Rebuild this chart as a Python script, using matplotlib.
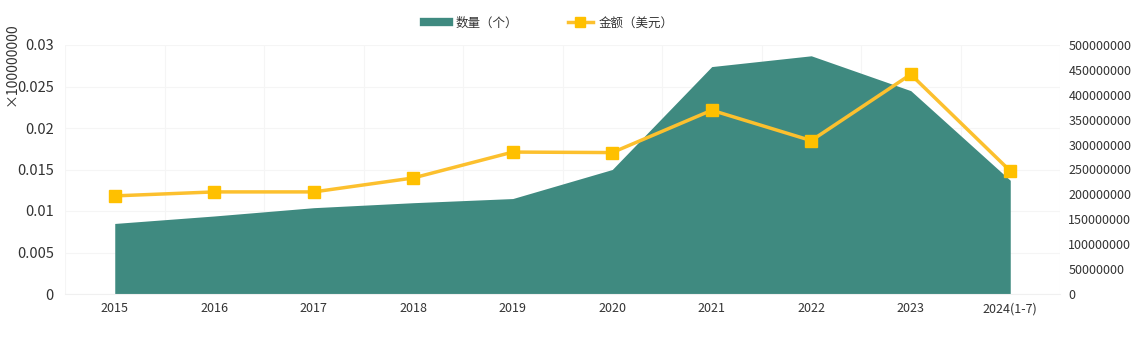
import matplotlib.pyplot as plt
from matplotlib.lines import Line2D
import numpy as np

plt.rcParams['font.family'] = ['Noto Sans CJK SC', 'DejaVu Sans']

years = ['2015', '2016', '2017', '2018', '2019', '2020', '2021', '2022', '2023', '2024(1-7)']
# count series, in units of 1e8 as shown on the left axis
count = [0.0085, 0.0094, 0.0104, 0.0110, 0.0115, 0.0150, 0.0274, 0.0287, 0.0245, 0.0137]
# amount in USD
amount = [197000000, 205000000, 205000000, 233000000, 285000000, 284000000,
          369000000, 308000000, 441000000, 247000000]

area_color = '#3f8a80'
line_color = '#fcc02e'
marker_color = '#ffc000'
text_color = '#333333'
grid_color = '#f5f5f5'

fig = plt.figure(figsize=(11.47, 3.42), dpi=100)
ax = fig.add_axes([65 / 1147, 48 / 342, 995 / 1147, 249 / 342])
ax2 = ax.twinx()

x = np.arange(len(years))
ax.fill_between(x, 0, count, color=area_color, linewidth=0, zorder=2)
ax2.plot(x, amount, color=line_color, linewidth=2.5, marker='s', markersize=8,
         markerfacecolor=marker_color, markeredgecolor=marker_color, zorder=3)

ax.set_xlim(-0.5, len(years) - 0.5)
ax.set_ylim(0, 0.03)
ax.set_yticks(np.arange(0, 0.0301, 0.005))
ax.set_yticklabels(['0', '0.005', '0.01', '0.015', '0.02', '0.025', '0.03'])
ax2.set_ylim(0, 500000000)
ax2.set_yticks(np.arange(0, 500000001, 50000000))
ax2.set_yticklabels([str(v) for v in range(0, 500000001, 50000000)])

ax.set_xticks(x)
ax.set_xticklabels(years)
ax.set_xticks(np.arange(-0.5, len(years)), minor=True)
ax.grid(True, axis='y', color=grid_color, linewidth=0.8, zorder=0)
ax.grid(True, axis='x', which='minor', color=grid_color, linewidth=0.8, zorder=0)
ax.set_axisbelow(True)

ax.tick_params(axis='x', length=0, labelsize=9, labelcolor=text_color, pad=6)
ax.tick_params(axis='x', which='minor', length=0)
ax.tick_params(axis='y', length=0, labelsize=10.5, labelcolor=text_color, pad=8)
ax2.tick_params(axis='y', length=0, labelsize=9, labelcolor=text_color, pad=6)

for a in (ax, ax2):
    for s in a.spines.values():
        s.set_visible(False)
ax.spines['bottom'].set_visible(True)
ax.spines['bottom'].set_color('#f0f0f0')

fig.text(12 / 1147, 1 - 64 / 342, '×100000000', rotation=90, ha='center', va='center',
         fontsize=10, color=text_color)

handles = [Line2D([0], [0], color=area_color, linewidth=6),
           Line2D([0], [0], color=line_color, linewidth=2.5, marker='s', markersize=7,
                  markerfacecolor=marker_color, markeredgecolor=marker_color)]
fig.legend(handles, ['数量（个）', '金额（美元）'], loc='center', bbox_to_anchor=(549 / 1147, 1 - 23 / 342),
           ncol=2, frameon=False, fontsize=9, handlelength=2.0, columnspacing=4,
           labelcolor=text_color, handletextpad=0.5)

fig.savefig('out.png', dpi=100)
